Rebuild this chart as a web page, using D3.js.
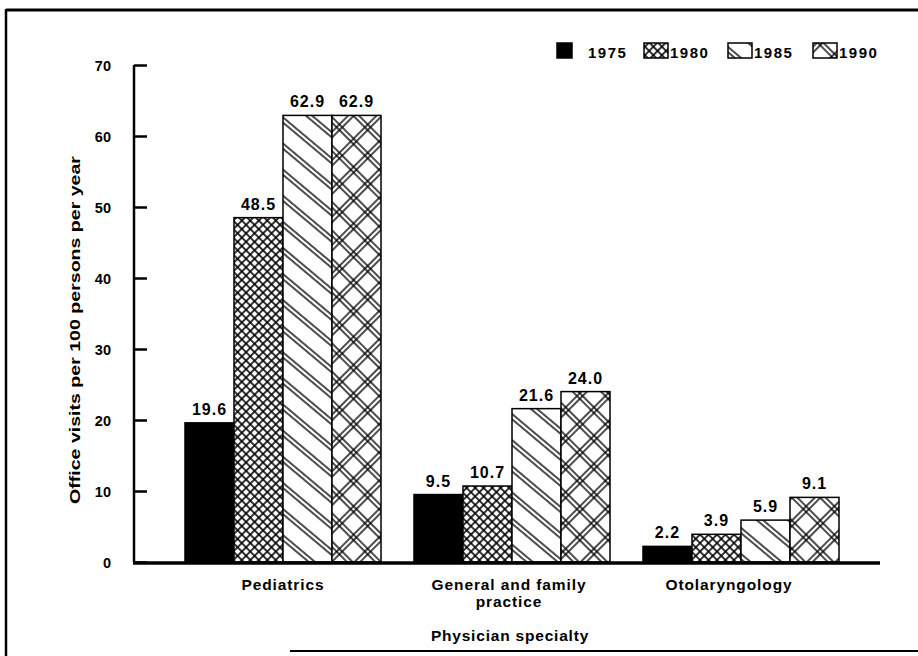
<!DOCTYPE html>
<html><head><meta charset="utf-8">
<script src="https://cdn.jsdelivr.net/npm/d3@7"></script>
<style>body{margin:0;background:#fff}svg{display:block}text{font-family:"Liberation Sans",Arial,sans-serif;fill:#000}</style>
</head><body><svg id="c" width="918" height="656"></svg>
<script>
const categories = ["Pediatrics", "General and family practice", "Otolaryngology"];
const categoryLines = [["Pediatrics"], ["General and family", "practice"], ["Otolaryngology"]];
const years = ["1975", "1980", "1985", "1990"];
const v1975 = [19.6, 9.5, 2.2];
const v1980 = [48.5, 10.7, 3.9];
const v1985 = [62.9, 21.6, 5.9];
const v1990 = [62.9, 24.0, 9.1];
const yTicks = [0, 10, 20, 30, 40, 50, 60, 70];
const yTitle = "Office visits per 100 persons per year";
const xTitle = "Physician specialty";

const series = [v1975, v1980, v1985, v1990];
const svg = d3.select("#c");
const defs = svg.append("defs");

function linePattern(id, size, angle, offsets, sw, both) {
  const p = defs.append("pattern").attr("id", id).attr("patternUnits", "userSpaceOnUse")
    .attr("width", size).attr("height", size).attr("patternTransform", `rotate(${angle})`);
  p.append("rect").attr("width", size).attr("height", size).attr("fill", "#fff");
  offsets.forEach(o => {
    p.append("line").attr("x1", -1).attr("x2", size + 1).attr("y1", o).attr("y2", o)
      .attr("stroke", "#000").attr("stroke-width", sw);
    if (both) p.append("line").attr("y1", -1).attr("y2", size + 1).attr("x1", o).attr("x2", o)
      .attr("stroke", "#000").attr("stroke-width", sw);
  });
}
linePattern("p1980", 6, 45, [3], 1.6, true);
linePattern("p1985", 20, 40, [8, 12], 1.4, false);
linePattern("p1990", 20, 45, [8, 12], 1.4, true);
const fills = ["#000", "url(#p1980)", "url(#p1985)", "url(#p1990)"];

// frame
svg.append("line").attr("x1", 6).attr("x2", 918).attr("y1", 10).attr("y2", 10).attr("stroke", "#000").attr("stroke-width", 3);
svg.append("line").attr("x1", 6).attr("x2", 6).attr("y1", 9).attr("y2", 656).attr("stroke", "#000").attr("stroke-width", 2.5);
svg.append("line").attr("x1", 290).attr("x2", 918).attr("y1", 651).attr("y2", 651).attr("stroke", "#000").attr("stroke-width", 2);

const y = d3.scaleLinear().domain([0, 70]).range([562, 65]);
const x0 = d3.scaleBand().domain(categories).range([168.5, 855.5]).paddingInner(0.144).paddingOuter(0.072);
const x1 = d3.scaleBand().domain(years).range([0, x0.bandwidth()]);

categories.forEach((c, ci) => {
  years.forEach((yr, si) => {
    const v = series[si][ci];
    svg.append("rect")
      .attr("x", x0(c) + x1(yr)).attr("width", x1.bandwidth())
      .attr("y", y(v)).attr("height", y(0) - y(v))
      .attr("fill", fills[si]).attr("stroke", "#000").attr("stroke-width", 1.5);
    svg.append("text")
      .attr("x", x0(c) + x1(yr) + x1.bandwidth() / 2).attr("y", y(v) - 8)
      .attr("text-anchor", "middle").style("font-size", "16px").style("font-weight", "bold")
      .attr("letter-spacing", 1)
      .text(v.toFixed(1));
  });
});

// y axis
const yAxis = d3.axisRight(y).tickValues(yTicks).tickSize(13).tickFormat(d3.format("d"));
const ga = svg.append("g").attr("transform", "translate(134,0)").call(yAxis);
ga.select(".domain").attr("stroke-width", 2.5).attr("d", `M0,${y(70)}V${y(0)}`);
ga.selectAll(".tick line").attr("stroke-width", 2.5);
ga.selectAll(".tick text").attr("x", -23).attr("text-anchor", "end")
  .style("font-size", "14.5px").style("font-weight", "bold")
  .style("font-family", "Liberation Sans, Arial, sans-serif").attr("dy", "0.35em");

// x axis
svg.append("line").attr("x1", 133).attr("x2", 880).attr("y1", y(0) + 1).attr("y2", y(0) + 1)
  .attr("stroke", "#000").attr("stroke-width", 3.5);

// category labels
const labelShift = [0, -3, -12];
categories.forEach((c, ci) => {
  categoryLines[ci].forEach((ln, li) => {
    svg.append("text").attr("x", x0(c) + x0.bandwidth() / 2 + labelShift[ci])
      .attr("y", 590 + li * 17).attr("text-anchor", "middle").style("font-size", "15.5px")
      .attr("letter-spacing", 0.9).style("font-weight", 600).text(ln);
  });
});

// titles
svg.append("text").attr("x", 510).attr("y", 641).attr("text-anchor", "middle")
  .style("font-size", "15.5px").attr("letter-spacing", 0.8).style("font-weight", 600).text(xTitle);
svg.append("text").attr("transform", "translate(80,330) rotate(-90)").attr("text-anchor", "middle")
  .style("font-size", "15.5px").style("font-weight", 600)
  .attr("textLength", 348).attr("lengthAdjust", "spacingAndGlyphs").text(yTitle);

// legend
const legX = [557, 644, 728, 813];
years.forEach((yr, i) => {
  const w = i === 0 ? 15 : 24;
  svg.append("rect").attr("x", legX[i]).attr("y", 43).attr("width", w).attr("height", 15)
    .attr("fill", fills[i]).attr("stroke", "#000").attr("stroke-width", 1.5);
  svg.append("text").attr("x", legX[i] + (i === 0 ? 31 : 26)).attr("y", 58)
    .style("font-size", "15px").style("font-weight", "bold").attr("letter-spacing", 1.5).text(yr);
});
</script></body></html>
